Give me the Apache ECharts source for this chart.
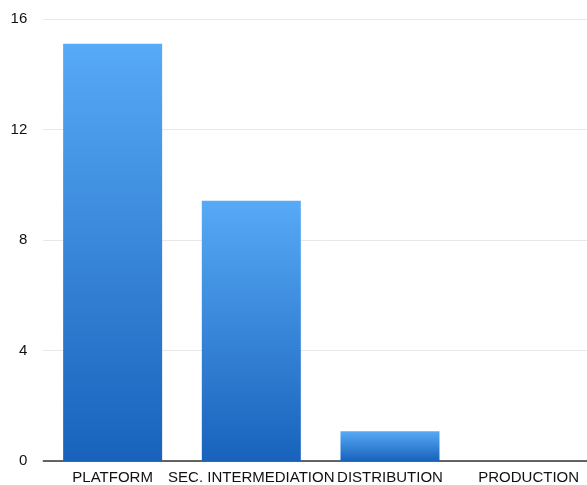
<!DOCTYPE html>
<html><head><meta charset="utf-8">
<script src="https://cdn.jsdelivr.net/npm/echarts@6/dist/echarts.min.js"></script>
<style>html,body{margin:0;padding:0;background:#fff;overflow:hidden}#c{width:598px;height:485px}</style>
</head><body><div id="c"></div>
<script>
const categories = ["PLATFORM", "SEC. INTERMEDIATION", "DISTRIBUTION", "PRODUCTION"];
const values = [15.1, 9.42, 1.08, 0];
const yTicks = [0, 4, 8, 12, 16];

const chart = echarts.init(document.getElementById('c'));
chart.setOption({
  animation: false,
  grid: { left: 43.3, top: 19, right: 0, bottom: 22.5, containLabel: false },
  xAxis: {
    type: 'category',
    data: categories,
    axisLine: { lineStyle: { color: '#333', width: 1.5 } },
    axisTick: { show: false },
    axisLabel: { color: '#111', fontSize: 15, fontFamily: 'Liberation Sans, Arial, sans-serif', margin: 9, interval: 0 }
  },
  yAxis: {
    type: 'value', min: 0, max: 16, interval: 4,
    axisLine: { show: false }, axisTick: { show: false },
    axisLabel: { color: '#111', fontSize: 15, fontFamily: 'Liberation Sans, Arial, sans-serif', margin: 16 },
    splitLine: { lineStyle: { color: '#e8e8e8', width: 1 } }
  },
  series: [{
    type: 'bar',
    data: values,
    barWidth: 99,
    itemStyle: {
      color: new echarts.graphic.LinearGradient(0, 0, 0, 1, [
        { offset: 0, color: '#57aaf6' },
        { offset: 1, color: '#1862bc' }
      ])
    }
  }]
});
</script></body></html>
